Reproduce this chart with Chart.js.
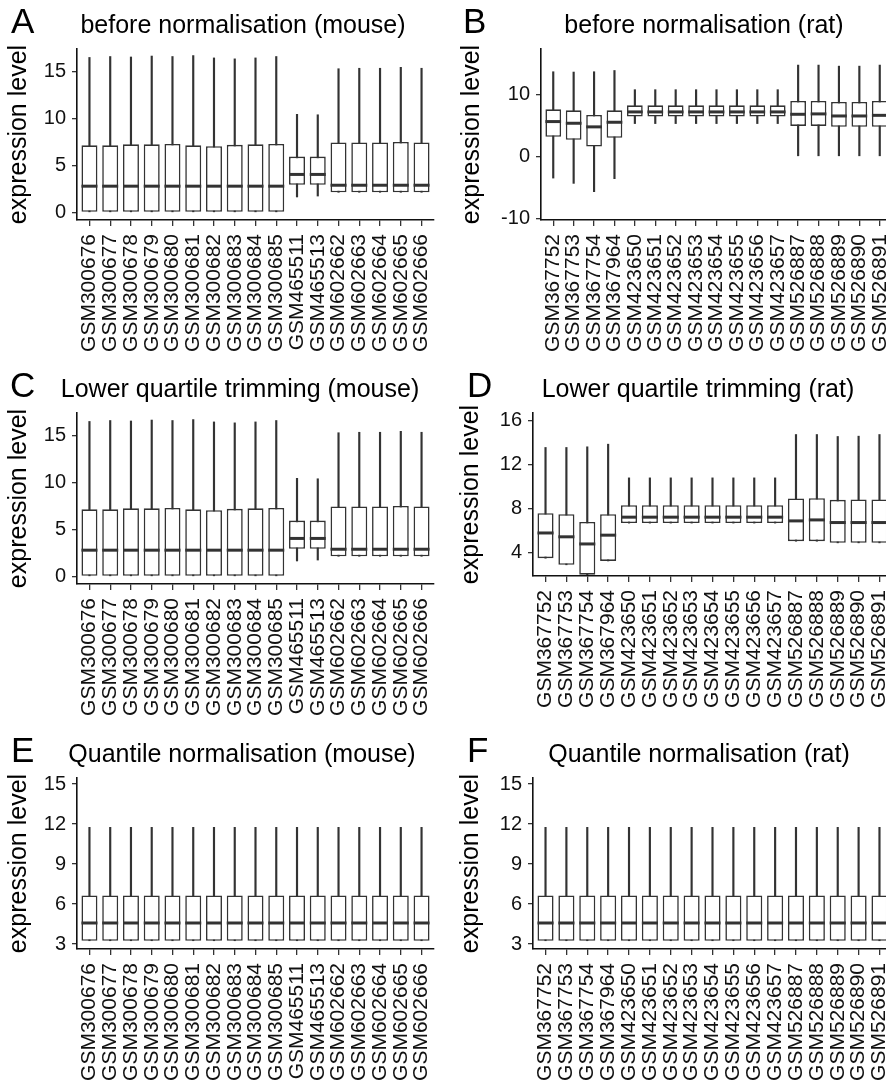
<!DOCTYPE html>
<html>
<head>
<meta charset="utf-8">
<script src="https://cdn.jsdelivr.net/npm/chart.js@4.4.0/dist/chart.umd.min.js"></script>
<style>
  html, body { margin: 0; padding: 0; background: #fff; }
  body { width: 886px; height: 1082px; overflow: hidden; position: relative; }
  canvas { position: absolute; }
</style>
</head>
<body>
<script>
// sample names
const mouseLabels = ['GSM300676', 'GSM300677', 'GSM300678', 'GSM300679', 'GSM300680', 'GSM300681', 'GSM300682', 'GSM300683', 'GSM300684', 'GSM300685', 'GSM465511', 'GSM465513', 'GSM602662', 'GSM602663', 'GSM602664', 'GSM602665', 'GSM602666'];
const ratLabels = ['GSM367752', 'GSM367753', 'GSM367754', 'GSM367964', 'GSM423650', 'GSM423651', 'GSM423652', 'GSM423653', 'GSM423654', 'GSM423655', 'GSM423656', 'GSM423657', 'GSM526887', 'GSM526888', 'GSM526889', 'GSM526890', 'GSM526891'];

// A - before normalisation (mouse)
const mouseBeforeLow  = [0, 0, 0, 0, 0, 0, 0, 0, 0, 0, 1.65, 1.75, 2.15, 2.15, 2.15, 2.15, 2.15];
const mouseBeforeQ1   = [0, 0, 0, 0, 0, 0, 0, 0, 0, 0, 2.95, 2.95, 2.15, 2.15, 2.15, 2.15, 2.15];
const mouseBeforeMed  = [2.8, 2.8, 2.8, 2.8, 2.8, 2.8, 2.8, 2.8, 2.8, 2.8, 4.05, 4.05, 2.9, 2.9, 2.9, 2.9, 2.9];
const mouseBeforeQ3   = [7.15, 7.15, 7.25, 7.25, 7.3, 7.15, 7.05, 7.2, 7.25, 7.3, 5.95, 5.95, 7.45, 7.45, 7.45, 7.5, 7.45];
const mouseBeforeHigh = [16.5, 16.6, 16.55, 16.65, 16.6, 16.7, 16.45, 16.35, 16.45, 16.6, 10.45, 10.4, 15.3, 15.35, 15.35, 15.45, 15.35];

// B - before normalisation (rat)
const ratBeforeLow  = [-3.47, -4.32, -5.65, -3.57, 5.28, 5.28, 5.28, 5.28, 5.28, 5.28, 5.28, 5.28, 0, 0, 0, 0, 0];
const ratBeforeQ1   = [3.15, 2.67, 1.6, 2.99, 6.4, 6.4, 6.4, 6.4, 6.4, 6.4, 6.4, 6.4, 4.9, 4.9, 4.75, 4.75, 4.75];
const ratBeforeMed  = [5.6, 5.33, 4.75, 5.49, 7.15, 7.15, 7.15, 7.15, 7.15, 7.15, 7.15, 7.15, 6.77, 6.83, 6.5, 6.5, 6.6];
const ratBeforeQ3   = [7.57, 7.41, 6.67, 7.41, 8.21, 8.21, 8.21, 8.21, 8.21, 8.21, 8.21, 8.21, 8.9, 8.9, 8.75, 8.75, 8.9];
const ratBeforeHigh = [13.6, 13.55, 13.6, 13.8, 10.72, 10.72, 10.72, 10.72, 10.72, 10.72, 10.72, 10.72, 14.67, 14.67, 14.5, 14.5, 14.67];

// C - lower quartile trimming (mouse)
const mouseTrimLow  = [0, 0, 0, 0, 0, 0, 0, 0, 0, 0, 1.65, 1.75, 2.15, 2.15, 2.15, 2.15, 2.15];
const mouseTrimQ1   = [0, 0, 0, 0, 0, 0, 0, 0, 0, 0, 2.95, 2.95, 2.15, 2.15, 2.15, 2.15, 2.15];
const mouseTrimMed  = [2.8, 2.8, 2.8, 2.8, 2.8, 2.8, 2.8, 2.8, 2.8, 2.8, 4.05, 4.05, 2.9, 2.9, 2.9, 2.9, 2.9];
const mouseTrimQ3   = [7.15, 7.15, 7.25, 7.25, 7.3, 7.15, 7.05, 7.2, 7.25, 7.3, 5.95, 5.95, 7.45, 7.45, 7.45, 7.5, 7.45];
const mouseTrimHigh = [16.5, 16.6, 16.55, 16.65, 16.6, 16.7, 16.45, 16.35, 16.45, 16.6, 10.45, 10.4, 15.3, 15.35, 15.35, 15.45, 15.35];

// D - lower quartile trimming (rat)
const ratTrimLow  = [3.45, 2.85, 1.95, 3.2, 6.65, 6.65, 6.65, 6.65, 6.65, 6.65, 6.65, 6.65, 5.0, 5.0, 4.85, 4.85, 4.85];
const ratTrimQ1   = [3.45, 2.85, 1.95, 3.2, 6.65, 6.65, 6.65, 6.65, 6.65, 6.65, 6.65, 6.65, 5.0, 5.0, 4.85, 4.85, 4.85];
const ratTrimMed  = [5.75, 5.4, 4.75, 5.55, 7.19, 7.19, 7.19, 7.19, 7.19, 7.19, 7.19, 7.19, 6.85, 6.94, 6.7, 6.7, 6.7];
const ratTrimQ3   = [7.55, 7.46, 6.76, 7.46, 8.28, 8.28, 8.28, 8.28, 8.28, 8.28, 8.28, 8.28, 8.89, 8.92, 8.77, 8.8, 8.8];
const ratTrimHigh = [13.54, 13.54, 13.6, 13.84, 10.77, 10.77, 10.77, 10.77, 10.77, 10.77, 10.77, 10.77, 14.72, 14.72, 14.54, 14.57, 14.72];

// E - quantile normalisation (mouse)
const mouseQuantLow  = [3.25, 3.25, 3.25, 3.25, 3.25, 3.25, 3.25, 3.25, 3.25, 3.25, 3.25, 3.25, 3.25, 3.25, 3.25, 3.25, 3.25];
const mouseQuantQ1   = [3.25, 3.25, 3.25, 3.25, 3.25, 3.25, 3.25, 3.25, 3.25, 3.25, 3.25, 3.25, 3.25, 3.25, 3.25, 3.25, 3.25];
const mouseQuantMed  = [4.58, 4.58, 4.58, 4.58, 4.58, 4.58, 4.58, 4.58, 4.58, 4.58, 4.58, 4.58, 4.58, 4.58, 4.58, 4.58, 4.58];
const mouseQuantQ3   = [6.65, 6.65, 6.65, 6.65, 6.65, 6.65, 6.65, 6.65, 6.65, 6.65, 6.65, 6.65, 6.65, 6.65, 6.65, 6.65, 6.65];
const mouseQuantHigh = [11.75, 11.75, 11.75, 11.75, 11.75, 11.75, 11.75, 11.75, 11.75, 11.75, 11.75, 11.75, 11.75, 11.75, 11.75, 11.75, 11.75];

// F - quantile normalisation (rat)
const ratQuantLow  = [3.25, 3.25, 3.25, 3.25, 3.25, 3.25, 3.25, 3.25, 3.25, 3.25, 3.25, 3.25, 3.25, 3.25, 3.25, 3.25, 3.25];
const ratQuantQ1   = [3.25, 3.25, 3.25, 3.25, 3.25, 3.25, 3.25, 3.25, 3.25, 3.25, 3.25, 3.25, 3.25, 3.25, 3.25, 3.25, 3.25];
const ratQuantMed  = [4.58, 4.58, 4.58, 4.58, 4.58, 4.58, 4.58, 4.58, 4.58, 4.58, 4.58, 4.58, 4.58, 4.58, 4.58, 4.58, 4.58];
const ratQuantQ3   = [6.65, 6.65, 6.65, 6.65, 6.65, 6.65, 6.65, 6.65, 6.65, 6.65, 6.65, 6.65, 6.65, 6.65, 6.65, 6.65, 6.65];
const ratQuantHigh = [11.75, 11.75, 11.75, 11.75, 11.75, 11.75, 11.75, 11.75, 11.75, 11.75, 11.75, 11.75, 11.75, 11.75, 11.75, 11.75, 11.75];

// y axis ticks per panel
const ticksMouseRaw = [0, 5, 10, 15];
const ticksRatRaw = [-10, 0, 10];
const ticksRatTrim = [4, 8, 12, 16];
const ticksQuant = [3, 6, 9, 12, 15];

const FONT = "'Liberation Sans', Arial, Helvetica, sans-serif";
const INK = '#333333';
const PANEL_H = 362;

// median bars drawn over the boxes
const medianLines = {
    id: 'medianLines',
    afterDatasetsDraw(chart, args, opts) {
        const meta = chart.getDatasetMeta(0);
        const yScale = chart.scales.y;
        const ctx = chart.ctx;
        ctx.save();
        ctx.strokeStyle = INK;
        ctx.lineWidth = 3;
        meta.data.forEach((bar, i) => {
            const py = yScale.getPixelForValue(opts.values[i]);
            ctx.beginPath();
            ctx.moveTo(bar.x - bar.width / 2, py);
            ctx.lineTo(bar.x + bar.width / 2, py);
            ctx.stroke();
        });
        ctx.restore();
    }
};

// panel letter + title
const panelText = {
    id: 'panelText',
    afterDraw(chart, args, opts) {
        const ctx = chart.ctx;
        ctx.save();
        ctx.fillStyle = '#000';
        ctx.textBaseline = 'alphabetic';
        ctx.textAlign = 'left';
        ctx.font = '35px ' + FONT;
        ctx.fillText(opts.letter, opts.letterX, opts.baseline);
        ctx.textAlign = 'center';
        ctx.font = '25px ' + FONT;
        ctx.fillText(opts.title, opts.titleX, opts.baseline);
        ctx.restore();
    }
};

function makePanel(cfg) {
    const canvas = document.createElement('canvas');
    canvas.width = cfg.w;
    canvas.height = PANEL_H;
    canvas.style.left = cfg.left + 'px';
    canvas.style.top = cfg.top + 'px';
    document.body.appendChild(canvas);

    const idx = cfg.labels.map((_, i) => i);
    const plotBottom = cfg.plotBottom || 220;

    return new Chart(canvas.getContext('2d'), {
        type: 'bar',
        data: {
            datasets: [
                {
                    label: 'box',
                    data: idx.map(i => ({ x: i, y: [cfg.q1[i], cfg.q3[i]] })),
                    backgroundColor: '#ffffff',
                    borderColor: INK,
                    borderWidth: 1.6,
                    borderSkipped: false,
                    barPercentage: 0.77,
                    categoryPercentage: 1,
                    grouped: false,
                    order: 1
                },
                {
                    label: 'whisker',
                    data: idx.map(i => ({ x: i, y: [cfg.low[i], cfg.high[i]] })),
                    backgroundColor: INK,
                    borderWidth: 0,
                    barThickness: 1.5,
                    grouped: false,
                    order: 2
                }
            ]
        },
        plugins: [medianLines, panelText],
        options: {
            responsive: false,
            animation: false,
            events: [],
            layout: { padding: { top: 49, right: cfg.padR, left: 0, bottom: 0 } },
            plugins: {
                legend: { display: false },
                tooltip: { enabled: false },
                medianLines: { values: cfg.med },
                panelText: { letter: cfg.letter, title: cfg.title, letterX: cfg.letterX, titleX: cfg.titleX, baseline: 33 }
            },
            scales: {
                x: {
                    type: 'linear',
                    bounds: 'data',
                    min: -0.6,
                    max: cfg.labels.length - 0.4,
                    offset: false,
                    afterBuildTicks: axis => { axis.ticks = idx.map(v => ({ value: v })); },
                    afterFit: s => { s.height = PANEL_H - plotBottom; s.paddingLeft = 0; s.paddingRight = 0; },
                    grid: { offset: false, drawOnChartArea: false, drawTicks: true, tickLength: 6, color: INK, lineWidth: 1.3 },
                    border: { display: true, color: '#111', width: 1.6 },
                    ticks: {
                        autoSkip: false,
                        minRotation: 90,
                        maxRotation: 90,
                        padding: 8,
                        color: '#111',
                        font: { family: FONT, size: 21 },
                        callback: (v, i) => cfg.labels[i]
                    }
                },
                y: {
                    bounds: 'data',
                    min: cfg.yMin,
                    max: cfg.yMax,
                    afterBuildTicks: axis => { axis.ticks = cfg.yTicks.map(v => ({ value: v })); },
                    afterFit: s => { s.width = cfg.yW; s.paddingTop = 0; s.paddingBottom = 0; },
                    grid: { drawOnChartArea: false, drawTicks: true, tickLength: 5, color: INK, lineWidth: 1.3 },
                    border: { display: true, color: '#111', width: 1.6 },
                    ticks: { padding: 6, color: '#111', font: { family: FONT, size: 20 } },
                    title: {
                        display: true,
                        text: 'expression level',
                        color: '#000',
                        font: { family: FONT, size: 25 },
                        padding: { top: cfg.yTitlePad, bottom: 0 }
                    }
                }
            }
        }
    });
}

makePanel({ letter: 'A', title: 'before normalisation (mouse)', left: 0, top: 0, w: 443, padR: 9, yW: 77, yTitlePad: 4,
    letterX: 11, titleX: 243, yMin: -0.8, yMax: 17.4, yTicks: ticksMouseRaw, labels: mouseLabels,
    low: mouseBeforeLow, q1: mouseBeforeQ1, med: mouseBeforeMed, q3: mouseBeforeQ3, high: mouseBeforeHigh });

makePanel({ letter: 'B', title: 'before normalisation (rat)', left: 443, top: 0, w: 449, padR: 0, yW: 98, yTitlePad: 14,
    letterX: 20, titleX: 261, yMin: -10.2, yMax: 17.25, yTicks: ticksRatRaw, labels: ratLabels,
    low: ratBeforeLow, q1: ratBeforeQ1, med: ratBeforeMed, q3: ratBeforeQ3, high: ratBeforeHigh });

makePanel({ letter: 'C', title: 'Lower quartile trimming (mouse)', left: 0, top: 364, w: 443, padR: 9, yW: 77, yTitlePad: 4,
    letterX: 10, titleX: 240, yMin: -0.8, yMax: 17.4, yTicks: ticksMouseRaw, labels: mouseLabels,
    low: mouseTrimLow, q1: mouseTrimQ1, med: mouseTrimMed, q3: mouseTrimQ3, high: mouseTrimHigh });

makePanel({ letter: 'D', title: 'Lower quartile trimming (rat)', left: 443, top: 364, w: 449, padR: 0, yW: 90, yTitlePad: 13,
    letterX: 24, titleX: 255, yMin: 1.83, yMax: 16.68, yTicks: ticksRatTrim, labels: ratLabels, plotBottom: 212,
    low: ratTrimLow, q1: ratTrimQ1, med: ratTrimMed, q3: ratTrimQ3, high: ratTrimHigh });

makePanel({ letter: 'E', title: 'Quantile normalisation (mouse)', left: 0, top: 729, w: 443, padR: 9, yW: 77, yTitlePad: 4,
    letterX: 11, titleX: 242, yMin: 2.63, yMax: 15.45, yTicks: ticksQuant, labels: mouseLabels,
    low: mouseQuantLow, q1: mouseQuantQ1, med: mouseQuantMed, q3: mouseQuantQ3, high: mouseQuantHigh });

makePanel({ letter: 'F', title: 'Quantile normalisation (rat)', left: 443, top: 729, w: 449, padR: 0, yW: 90, yTitlePad: 13,
    letterX: 24, titleX: 256, yMin: 2.63, yMax: 15.45, yTicks: ticksQuant, labels: ratLabels,
    low: ratQuantLow, q1: ratQuantQ1, med: ratQuantMed, q3: ratQuantQ3, high: ratQuantHigh });
</script>
</body>
</html>
